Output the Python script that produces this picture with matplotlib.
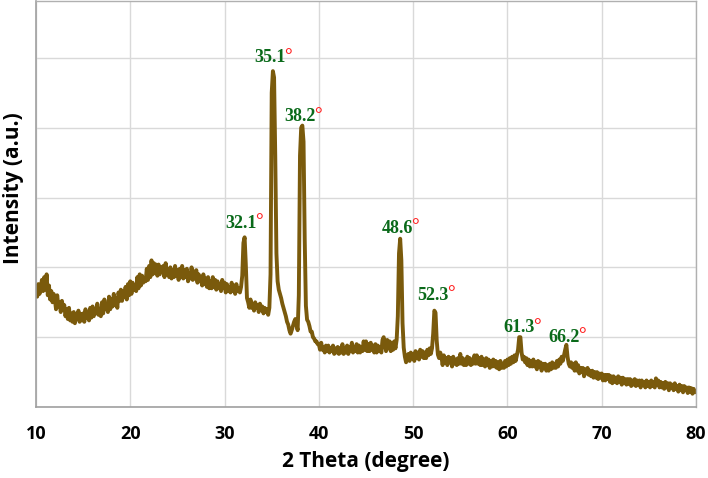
import matplotlib
matplotlib.use("Agg")
import matplotlib.pyplot as plt

# XRD pattern, sampled every 0.125 degree from 10 to 80 (one row per degree)
start_angle = 10.0
step_angle = 0.125
intensity = [
    1.72, 1.58, 1.76, 1.62, 1.70, 1.82, 1.66, 1.86,   # 10
    1.68, 1.90, 1.60, 1.74, 1.54, 1.66, 1.50, 1.62,   # 11
    1.54, 1.40, 1.60, 1.44, 1.50, 1.36, 1.52, 1.40,   # 12
    1.46, 1.30, 1.40, 1.26, 1.42, 1.24, 1.34, 1.22,   # 13
    1.36, 1.20, 1.30, 1.26, 1.38, 1.22, 1.33, 1.24,   # 14
    1.34, 1.22, 1.40, 1.28, 1.32, 1.24, 1.42, 1.28,   # 15
    1.44, 1.30, 1.40, 1.34, 1.48, 1.32, 1.38, 1.30,   # 16
    1.50, 1.34, 1.54, 1.40, 1.44, 1.36, 1.58, 1.40,   # 17
    1.54, 1.44, 1.62, 1.46, 1.56, 1.42, 1.64, 1.52,   # 18
    1.68, 1.52, 1.66, 1.58, 1.72, 1.54, 1.76, 1.60,   # 19
    1.80, 1.62, 1.78, 1.68, 1.74, 1.66, 1.86, 1.70,   # 20
    1.90, 1.74, 1.88, 1.78, 1.84, 1.80, 1.98, 1.82,   # 21
    2.02, 1.86, 2.10, 1.90, 2.06, 1.92, 2.04, 1.88,   # 22
    2.04, 1.90, 2.00, 1.94, 2.02, 1.86, 2.06, 1.90,   # 23
    1.98, 1.86, 2.00, 1.84, 1.96, 1.86, 2.02, 1.88,   # 24
    1.96, 1.82, 1.98, 1.86, 2.02, 1.84, 1.96, 1.86,   # 25
    1.98, 1.80, 1.92, 1.84, 2.00, 1.82, 1.94, 1.84,   # 26
    1.96, 1.78, 1.90, 1.80, 1.86, 1.74, 1.90, 1.76,   # 27
    1.84, 1.72, 1.86, 1.70, 1.80, 1.70, 1.86, 1.72,   # 28
    1.82, 1.68, 1.80, 1.70, 1.76, 1.66, 1.82, 1.70,   # 29
    1.78, 1.64, 1.76, 1.66, 1.72, 1.64, 1.78, 1.66,   # 30
    1.74, 1.62, 1.76, 1.66, 1.70, 1.64, 1.72, 1.88,   # 31
    2.35, 2.43, 2.05, 1.56, 1.50, 1.42, 1.54, 1.42,   # 32
    1.48, 1.38, 1.50, 1.42, 1.46, 1.36, 1.48, 1.40,   # 33
    1.44, 1.34, 1.42, 1.36, 1.40, 1.32, 1.42, 1.90,   # 34
    4.50, 4.81, 4.72, 3.60, 2.20, 1.80, 1.68, 1.62,   # 35
    1.56, 1.48, 1.42, 1.36, 1.30, 1.22, 1.18, 1.10,   # 36
    1.05, 1.10, 1.16, 1.22, 1.26, 1.18, 1.10, 1.60,   # 37
    3.60, 4.00, 4.03, 3.80, 2.40, 1.45, 1.25, 1.22,   # 38
    1.16, 1.08, 1.08, 1.00, 0.98, 0.94, 0.94, 0.90,   # 39
    0.90, 0.82, 0.92, 0.82, 0.86, 0.78, 0.88, 0.80,   # 40
    0.88, 0.78, 0.84, 0.80, 0.88, 0.76, 0.84, 0.78,   # 41
    0.86, 0.76, 0.84, 0.78, 0.90, 0.76, 0.84, 0.78,   # 42
    0.88, 0.76, 0.86, 0.80, 0.92, 0.78, 0.86, 0.80,   # 43
    0.90, 0.78, 0.88, 0.78, 0.86, 0.80, 0.94, 0.82,   # 44
    0.94, 0.80, 0.90, 0.80, 0.92, 0.82, 0.88, 0.78,   # 45
    0.90, 0.78, 0.88, 0.80, 0.86, 0.78, 0.96, 1.00,   # 46
    0.90, 0.80, 0.96, 0.84, 0.94, 0.80, 0.92, 0.82,   # 47
    0.94, 0.84, 0.96, 1.30, 2.20, 2.41, 2.10, 1.20,   # 48
    0.85, 0.72, 0.64, 0.72, 0.76, 0.66, 0.78, 0.70,   # 49
    0.76, 0.66, 0.80, 0.70, 0.78, 0.68, 0.82, 0.72,   # 50
    0.80, 0.70, 0.78, 0.70, 0.82, 0.74, 0.84, 0.76,   # 51
    0.84, 1.05, 1.38, 1.35, 0.95, 0.75, 0.70, 0.78,   # 52
    0.72, 0.60, 0.74, 0.64, 0.70, 0.60, 0.72, 0.64,   # 53
    0.70, 0.58, 0.72, 0.62, 0.68, 0.60, 0.70, 0.62,   # 54
    0.76, 0.62, 0.70, 0.60, 0.68, 0.60, 0.72, 0.62,   # 55
    0.70, 0.60, 0.68, 0.62, 0.74, 0.62, 0.74, 0.62,   # 56
    0.70, 0.60, 0.72, 0.60, 0.68, 0.58, 0.70, 0.60,   # 57
    0.68, 0.56, 0.66, 0.58, 0.68, 0.58, 0.66, 0.56,   # 58
    0.64, 0.54, 0.66, 0.56, 0.62, 0.56, 0.66, 0.58,   # 59
    0.68, 0.60, 0.70, 0.62, 0.72, 0.64, 0.74, 0.66,   # 60
    0.74, 0.82, 1.00, 1.00, 0.78, 0.68, 0.72, 0.64,   # 61
    0.70, 0.60, 0.68, 0.58, 0.66, 0.58, 0.68, 0.58,   # 62
    0.64, 0.54, 0.66, 0.58, 0.64, 0.52, 0.62, 0.56,   # 63
    0.62, 0.52, 0.60, 0.52, 0.62, 0.54, 0.64, 0.56,   # 64
    0.62, 0.56, 0.66, 0.58, 0.68, 0.62, 0.72, 0.66,   # 65
    0.74, 0.82, 0.89, 0.72, 0.62, 0.58, 0.64, 0.56,   # 66
    0.62, 0.52, 0.64, 0.52, 0.60, 0.48, 0.56, 0.50,   # 67
    0.56, 0.44, 0.54, 0.48, 0.56, 0.46, 0.52, 0.44,   # 68
    0.52, 0.42, 0.50, 0.42, 0.50, 0.40, 0.48, 0.42,   # 69
    0.48, 0.38, 0.46, 0.38, 0.46, 0.40, 0.46, 0.36,   # 70
    0.44, 0.34, 0.44, 0.36, 0.42, 0.34, 0.44, 0.36,   # 71
    0.42, 0.32, 0.42, 0.34, 0.40, 0.32, 0.40, 0.33,   # 72
    0.40, 0.30, 0.38, 0.32, 0.40, 0.30, 0.38, 0.32,   # 73
    0.38, 0.28, 0.38, 0.31, 0.36, 0.28, 0.38, 0.30,   # 74
    0.36, 0.28, 0.38, 0.30, 0.36, 0.28, 0.41, 0.32,   # 75
    0.38, 0.28, 0.36, 0.28, 0.34, 0.26, 0.36, 0.28,   # 76
    0.34, 0.24, 0.34, 0.27, 0.32, 0.24, 0.34, 0.26,   # 77
    0.30, 0.22, 0.32, 0.24, 0.30, 0.21, 0.30, 0.24,   # 78
    0.28, 0.20, 0.28, 0.22, 0.27, 0.19, 0.26, 0.21,   # 79
    0.22,                                             # 80
]
two_theta = [start_angle + step_angle * i for i in range(len(intensity))]

peak_labels = ["32.1", "35.1", "38.2", "48.6", "52.3", "61.3", "66.2"]
label_x = [31.75, 34.8, 38.0, 48.3, 52.1, 61.2, 66.0]
label_y = [2.63, 5.00, 4.16, 2.56, 1.60, 1.14, 1.00]

x_ticks = [10, 20, 30, 40, 50, 60, 70, 80]
y_grid = [0, 1, 2, 3, 4, 5]

fig = plt.figure(figsize=(7.08, 4.78), dpi=100)
ax = fig.add_axes([36 / 708, 1 - 407 / 478, 660 / 708, 406 / 478])

ax.plot(two_theta, intensity, color="#7a5a0c", linewidth=2.8, solid_joinstyle="round")

ax.set_xlim(10, 80)
ax.set_ylim(0, 407 / 70)
ax.set_xticks(x_ticks)
ax.set_yticks(y_grid)
ax.set_yticklabels([])
ax.tick_params(axis="both", length=0)
ax.tick_params(axis="x", pad=13)
for lab in ax.get_xticklabels():
    lab.set_fontfamily("Open Sans")
    lab.set_fontweight("bold")
    lab.set_fontsize(13)
ax.grid(True, color="#d9d9d9", linewidth=1)
ax.set_axisbelow(True)
for side in ["top", "right"]:
    ax.spines[side].set_color("#b0b0b0")
    ax.spines[side].set_linewidth(1)
for side in ["left", "bottom"]:
    ax.spines[side].set_color("#a0a0a0")
    ax.spines[side].set_linewidth(1.2)

fig.text(366 / 708, 1 - 462 / 478, "2 Theta (degree)", ha="center", va="center",
         fontsize=15, fontweight="bold", family="Open Sans")
fig.text(14 / 708, 1 - 188 / 478, "Intensity (a.u.)", ha="center", va="center",
         rotation=90, fontsize=15, fontweight="bold", family="Open Sans")

for lab, lx, ly in zip(peak_labels, label_x, label_y):
    t = ax.text(lx, ly, lab, ha="center", va="center", color="#0a6a1a",
                fontsize=13, fontweight="bold", family="Liberation Serif")
    ax.annotate("°", xy=(1, 1.08), xycoords=t, xytext=(-1, 0),
                textcoords="offset points", ha="left", va="top",
                color="#ff2020", fontsize=14, fontweight="bold",
                family="Liberation Serif")

fig.savefig("out.png", dpi=100)
